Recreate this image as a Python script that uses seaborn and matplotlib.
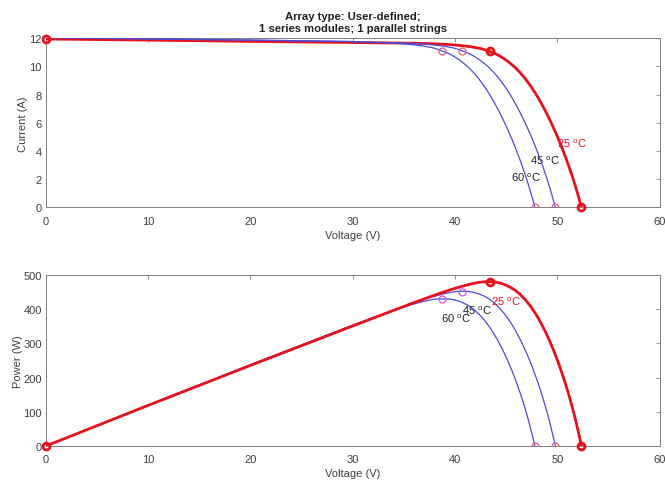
import seaborn as sns
import matplotlib.pyplot as plt
import pandas as pd

# I-V / P-V curves, one set per cell temperature
v_25 = [0, 10, 20, 30, 35.85, 37.85, 39.35, 40.35, 41.35, 42.35, 42.85, 43.35, 43.85,
        44.35, 44.85, 45.35, 45.85, 46.35, 46.85, 47.35, 47.85, 48.1, 48.35, 48.6, 48.85,
        49.1, 49.35, 49.6, 49.85, 50.1, 50.35, 50.6, 50.85, 51.1, 51.35, 51.6, 51.85,
        52.1, 52.35]
i_25 = [11.95, 11.87, 11.78, 11.70, 11.65, 11.61, 11.56, 11.50, 11.42, 11.30, 11.20,
        11.08, 10.94, 10.75, 10.52, 10.25, 9.94, 9.57, 9.14, 8.65, 8.10, 7.80, 7.48, 7.15,
        6.81, 6.45, 6.07, 5.68, 5.27, 4.85, 4.40, 3.94, 3.46, 2.96, 2.43, 1.88, 1.29,
        0.66, 0]
p_25 = [0, 118.7, 235.6, 351.0, 417.7, 439.4, 454.9, 464.0, 472.2, 478.6, 479.9, 480.3,
        479.7, 476.8, 471.8, 464.8, 455.7, 443.6, 428.2, 409.6, 387.6, 375.2, 361.7,
        347.5, 332.7, 316.7, 299.6, 281.7, 262.7, 243.0, 221.5, 199.4, 175.9, 151.3,
        124.8, 97.0, 66.9, 34.4, 0]

v_45 = [0, 10, 20, 30, 33.3, 35.3, 36.8, 37.8, 38.8, 39.8, 40.3, 40.8, 41.3, 41.8, 42.3,
        42.8, 43.3, 43.8, 44.3, 44.8, 45.3, 45.55, 45.8, 46.05, 46.3, 46.55, 46.8, 47.05,
        47.3, 47.55, 47.8, 48.05, 48.3, 48.55, 48.8, 49.05, 49.3, 49.55, 49.8]
i_45 = [12.04, 11.95, 11.86, 11.76, 11.70, 11.66, 11.60, 11.54, 11.45, 11.32, 11.22,
        11.08, 10.94, 10.75, 10.52, 10.25, 9.94, 9.57, 9.14, 8.65, 8.10, 7.80, 7.48, 7.15,
        6.81, 6.45, 6.07, 5.68, 5.27, 4.85, 4.40, 3.94, 3.46, 2.96, 2.43, 1.88, 1.29,
        0.66, 0]
p_45 = [0, 119.5, 237.2, 352.8, 389.6, 411.6, 426.9, 436.2, 444.3, 450.5, 452.2, 452.1,
        451.8, 449.4, 445.0, 438.7, 430.4, 419.2, 404.9, 387.5, 366.9, 355.3, 342.6,
        329.3, 315.3, 300.2, 284.1, 267.2, 249.3, 230.6, 210.3, 189.3, 167.1, 143.7,
        118.6, 92.2, 63.6, 32.7, 0]

v_60 = [0, 10, 20, 30, 31.3, 33.3, 34.8, 35.8, 36.8, 37.8, 38.3, 38.8, 39.3, 39.8, 40.3,
        40.8, 41.3, 41.8, 42.3, 42.8, 43.3, 43.55, 43.8, 44.05, 44.3, 44.55, 44.8, 45.05,
        45.3, 45.55, 45.8, 46.05, 46.3, 46.55, 46.8, 47.05, 47.3, 47.55, 47.8]
i_60 = [12.07, 11.97, 11.88, 11.77, 11.73, 11.68, 11.62, 11.55, 11.46, 11.33, 11.22,
        11.08, 10.94, 10.75, 10.52, 10.25, 9.94, 9.57, 9.14, 8.65, 8.10, 7.80, 7.48, 7.15,
        6.81, 6.45, 6.07, 5.68, 5.27, 4.85, 4.40, 3.94, 3.46, 2.96, 2.43, 1.88, 1.29,
        0.66, 0]
p_60 = [0, 119.7, 237.6, 353.1, 367.1, 388.9, 404.4, 413.5, 421.7, 428.3, 429.7, 429.9,
        429.9, 427.9, 424.0, 418.2, 410.5, 400.0, 386.6, 370.2, 350.7, 339.7, 327.6,
        315.0, 301.7, 287.3, 271.9, 255.9, 238.7, 220.9, 201.5, 181.4, 160.2, 137.8,
        113.7, 88.5, 61.0, 31.4, 0]

# maximum power points and open-circuit voltages (25, 45, 60 degC)
mpp_v = [43.4, 40.7, 38.7]
mpp_i = [11.07, 11.1, 11.1]
mpp_p = [480, 451, 430]
voc = [52.35, 49.8, 47.8]
isc_25 = 11.95

frames = []
for t, v, i, p in [("25", v_25, i_25, p_25), ("45", v_45, i_45, p_45), ("60", v_60, i_60, p_60)]:
    frames.append(pd.DataFrame({"Voltage": v, "Current": i, "Power": p, "Temp": t}))
data = pd.concat(frames, ignore_index=True)

sns.set_style("white")
plt.rcParams["font.family"] = ["Liberation Sans", "DejaVu Sans"]
plt.rcParams["mathtext.default"] = "regular"

BLUE = "#4c4cd8"
RED = "#e8101a"
PINK = "#dd6078"
MAGENTA = "#cc55ee"
GREY = "#404040"

fig = plt.figure(figsize=(6.65, 4.85), dpi=100)
ax1 = fig.add_axes([0.069, 0.5705, 0.923, 0.3485])
ax2 = fig.add_axes([0.069, 0.0784, 0.923, 0.3526])

palette = {"25": RED, "45": BLUE, "60": BLUE}
widths = {"25": 2.0, "45": 0.9, "60": 0.9}

for ax, col in [(ax1, "Current"), (ax2, "Power")]:
    for t in ["60", "45", "25"]:
        sub = data[data.Temp == t]
        if t == "25":
            z = 3
        else:
            z = 3.5 if ax is ax1 else 2
        sns.lineplot(data=sub, x="Voltage", y=col, ax=ax, color=palette[t],
                     linewidth=widths[t], sort=False, estimator=None, legend=False,
                     zorder=z)

# markers on the I-V plot
ax1.plot(mpp_v[1:], mpp_i[1:], "o", mfc="none", mec=PINK, ms=5, mew=0.9, zorder=4)
ax1.plot(voc[1:], [0, 0], "o", mfc="none", mec=PINK, ms=5, mew=0.9, zorder=4)
ax1.plot([0, mpp_v[0], voc[0]], [isc_25, mpp_i[0], 0], "o", mfc="none", mec=RED,
         ms=5, mew=2, zorder=5, clip_on=False)

# markers on the P-V plot
ax2.plot(mpp_v[1:], mpp_p[1:], "o", mfc="none", mec=MAGENTA, ms=5, mew=0.9, zorder=4)
ax2.plot(voc[1:], [0, 0], "o", mfc="none", mec=PINK, ms=5, mew=0.9, zorder=4)
ax2.plot([0, mpp_v[0], voc[0]], [0, mpp_p[0], 0], "o", mfc="none", mec=RED,
         ms=5, mew=2, zorder=5, clip_on=False)

deg = " $^{o}$C"
ax1.text(49.95, 4.6, "25" + deg, color=RED, fontsize=8, va="center", zorder=2)
ax1.text(47.3, 3.4, "45" + deg, color="#202020", fontsize=8, va="center", zorder=1)
ax1.text(45.5, 2.2, "60" + deg, color="#202020", fontsize=8, va="center", zorder=1)
ax2.text(43.5, 424, "25" + deg, color=RED, fontsize=8, va="center", zorder=2)
ax2.text(40.7, 398, "45" + deg, color="#202020", fontsize=8, va="center", zorder=1)
ax2.text(38.6, 374, "60" + deg, color="#202020", fontsize=8, va="center", zorder=1)

ax1.set_xlim(0, 60)
ax1.set_ylim(0, 12)
ax1.set_yticks(range(0, 13, 2))
ax2.set_xlim(0, 60)
ax2.set_ylim(0, 500)
ax2.set_yticks(range(0, 501, 100))

for ax in (ax1, ax2):
    ax.set_xticks(range(0, 61, 10))
    ax.set_xlabel("Voltage (V)", fontsize=8, color=GREY, labelpad=3)
    ax.tick_params(direction="in", top=True, right=True, length=3, width=0.6,
                   colors="#808080", labelcolor=GREY, labelsize=8, pad=3)
    ax.tick_params(axis="x", pad=6)
    for s in ax.spines.values():
        s.set_color("#808080")
        s.set_linewidth(0.7)

ax1.set_ylabel("Current (A)", fontsize=8, color=GREY, labelpad=1)
ax2.set_ylabel("Power (W)", fontsize=8, color=GREY, labelpad=0)
ax1.set_title("Array type: User-defined;\n1 series modules; 1 parallel strings",
              fontsize=8.1, fontweight="bold", color="#202020", pad=5, linespacing=1.25)

fig.savefig("out.png", dpi=100)
plt.close(fig)
